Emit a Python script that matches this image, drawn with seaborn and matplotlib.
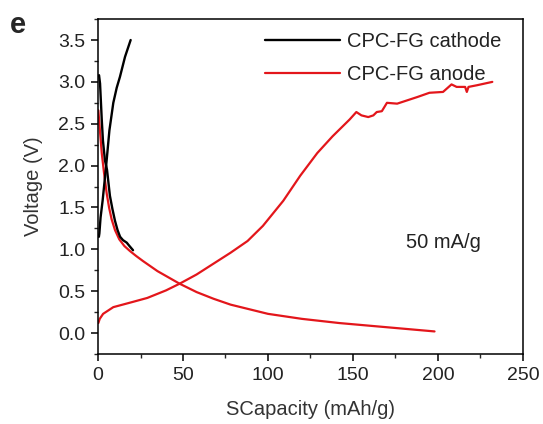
import matplotlib
matplotlib.use("Agg")
import matplotlib.pyplot as plt
from matplotlib.ticker import MultipleLocator, FormatStrFormatter
from matplotlib.lines import Line2D
import seaborn as sns

# Galvanostatic charge/discharge profiles at 50 mA/g
cathode_charge_cap = [0.5, 0.8, 1.5, 2.7, 4.7, 6.7, 9.0, 11.0, 12.9, 15.9, 19.2]
cathode_charge_v = [1.15, 1.19, 1.38, 1.58, 1.98, 2.42, 2.75, 2.93, 3.06, 3.30, 3.50]

cathode_dis_cap = [0.6, 1.2, 2.2, 2.9, 4.1, 5.3, 7.0, 8.5, 10.0, 11.5, 13.0, 14.7, 16.9, 18.5, 20.6]
cathode_dis_v = [3.08, 2.98, 2.55, 2.30, 2.06, 1.95, 1.64, 1.48, 1.34, 1.23, 1.15, 1.11, 1.08, 1.04, 0.99]

anode_dis_cap = [0.2, 1.0, 2.2, 3.5, 5.1, 6.5, 8.0, 10.0, 12.5, 15.5, 18.8, 22.5, 26.5, 35.0,
                 48.0, 58.0, 68.0, 78.0, 88.0, 100.0, 120.0, 142.0, 170.0, 198.0]
anode_dis_v = [2.66, 2.45, 2.15, 1.92, 1.67, 1.50, 1.36, 1.23, 1.12, 1.04, 0.98, 0.92, 0.86,
               0.74, 0.59, 0.49, 0.41, 0.34, 0.29, 0.23, 0.17, 0.12, 0.07, 0.02]

anode_ch_cap = [0.2, 1.0, 3.0, 9.0, 20.0, 29.0, 40.0, 48.0, 58.0, 68.0, 78.0, 88.0, 97.0,
                109.0, 119.0, 129.0, 138.0, 148.0, 152.0, 155.0, 159.0, 162.0, 164.0, 167.0,
                170.0, 176.0, 182.0, 188.0, 195.0, 203.0, 208.0, 211.0, 216.0, 217.0, 218.0,
                223.0, 232.0]
anode_ch_v = [0.12, 0.17, 0.23, 0.31, 0.37, 0.42, 0.51, 0.59, 0.70, 0.83, 0.96, 1.10, 1.28,
              1.58, 1.88, 2.15, 2.35, 2.55, 2.64, 2.60, 2.58, 2.60, 2.64, 2.65, 2.75, 2.74,
              2.78, 2.82, 2.87, 2.88, 2.97, 2.94, 2.94, 2.88, 2.94, 2.96, 3.00]

sns.set_style("ticks")
plt.rcParams["font.family"] = ["Liberation Sans", "DejaVu Sans"]

fig = plt.figure(figsize=(5.43, 4.24), dpi=100)
ax = fig.add_axes([0.1805, 0.165, 0.7825, 0.79])

red = "#e3161b"
sns.lineplot(x=anode_dis_cap, y=anode_dis_v, sort=False, estimator=None, ax=ax,
             color=red, lw=1.6)
sns.lineplot(x=anode_ch_cap, y=anode_ch_v, sort=False, estimator=None, ax=ax,
             color=red, lw=1.6)
sns.lineplot(x=cathode_dis_cap, y=cathode_dis_v, sort=False, estimator=None, ax=ax,
             color="black", lw=1.7)
sns.lineplot(x=cathode_charge_cap, y=cathode_charge_v, sort=False, estimator=None, ax=ax,
             color="black", lw=1.7)

ax.set_xlim(0, 250)
ax.set_ylim(-0.25, 3.75)
ax.xaxis.set_major_locator(MultipleLocator(50))
ax.xaxis.set_minor_locator(MultipleLocator(25))
ax.yaxis.set_major_locator(MultipleLocator(0.5))
ax.yaxis.set_minor_locator(MultipleLocator(0.25))
ax.yaxis.set_major_formatter(FormatStrFormatter("%.1f"))
ax.tick_params(which="major", direction="out", length=5, width=1.1, labelsize=14,
               labelcolor="#222222", color="black", pad=4)
ax.tick_params(which="minor", direction="out", length=3, width=1.0)
for s in ax.spines.values():
    s.set_visible(True)
    s.set_linewidth(1.1)
    s.set_color("black")

ax.set_xlabel("SCapacity (mAh/g)", fontsize=14.5, labelpad=12, color="#333333")
ax.set_ylabel("Voltage (V)", fontsize=14.5, labelpad=11, color="#333333")

handles = [Line2D([], [], color="black", lw=1.7), Line2D([], [], color=red, lw=1.6)]
ax.legend(handles, ["CPC-FG cathode", "CPC-FG anode"], loc="upper left",
          bbox_to_anchor=(0.393, 0.96), frameon=False, fontsize=14.5,
          handlelength=3.7, handletextpad=0.35, labelspacing=0.68, borderaxespad=0,
          borderpad=0, labelcolor="#222222")

ax.text(181, 1.08, "50 mA/g", fontsize=14.5, ha="left", va="center", color="#222222")
fig.text(0.018, 0.975, "e", fontsize=21, fontweight="bold", ha="left", va="top")

fig.savefig("out.png", dpi=100)
